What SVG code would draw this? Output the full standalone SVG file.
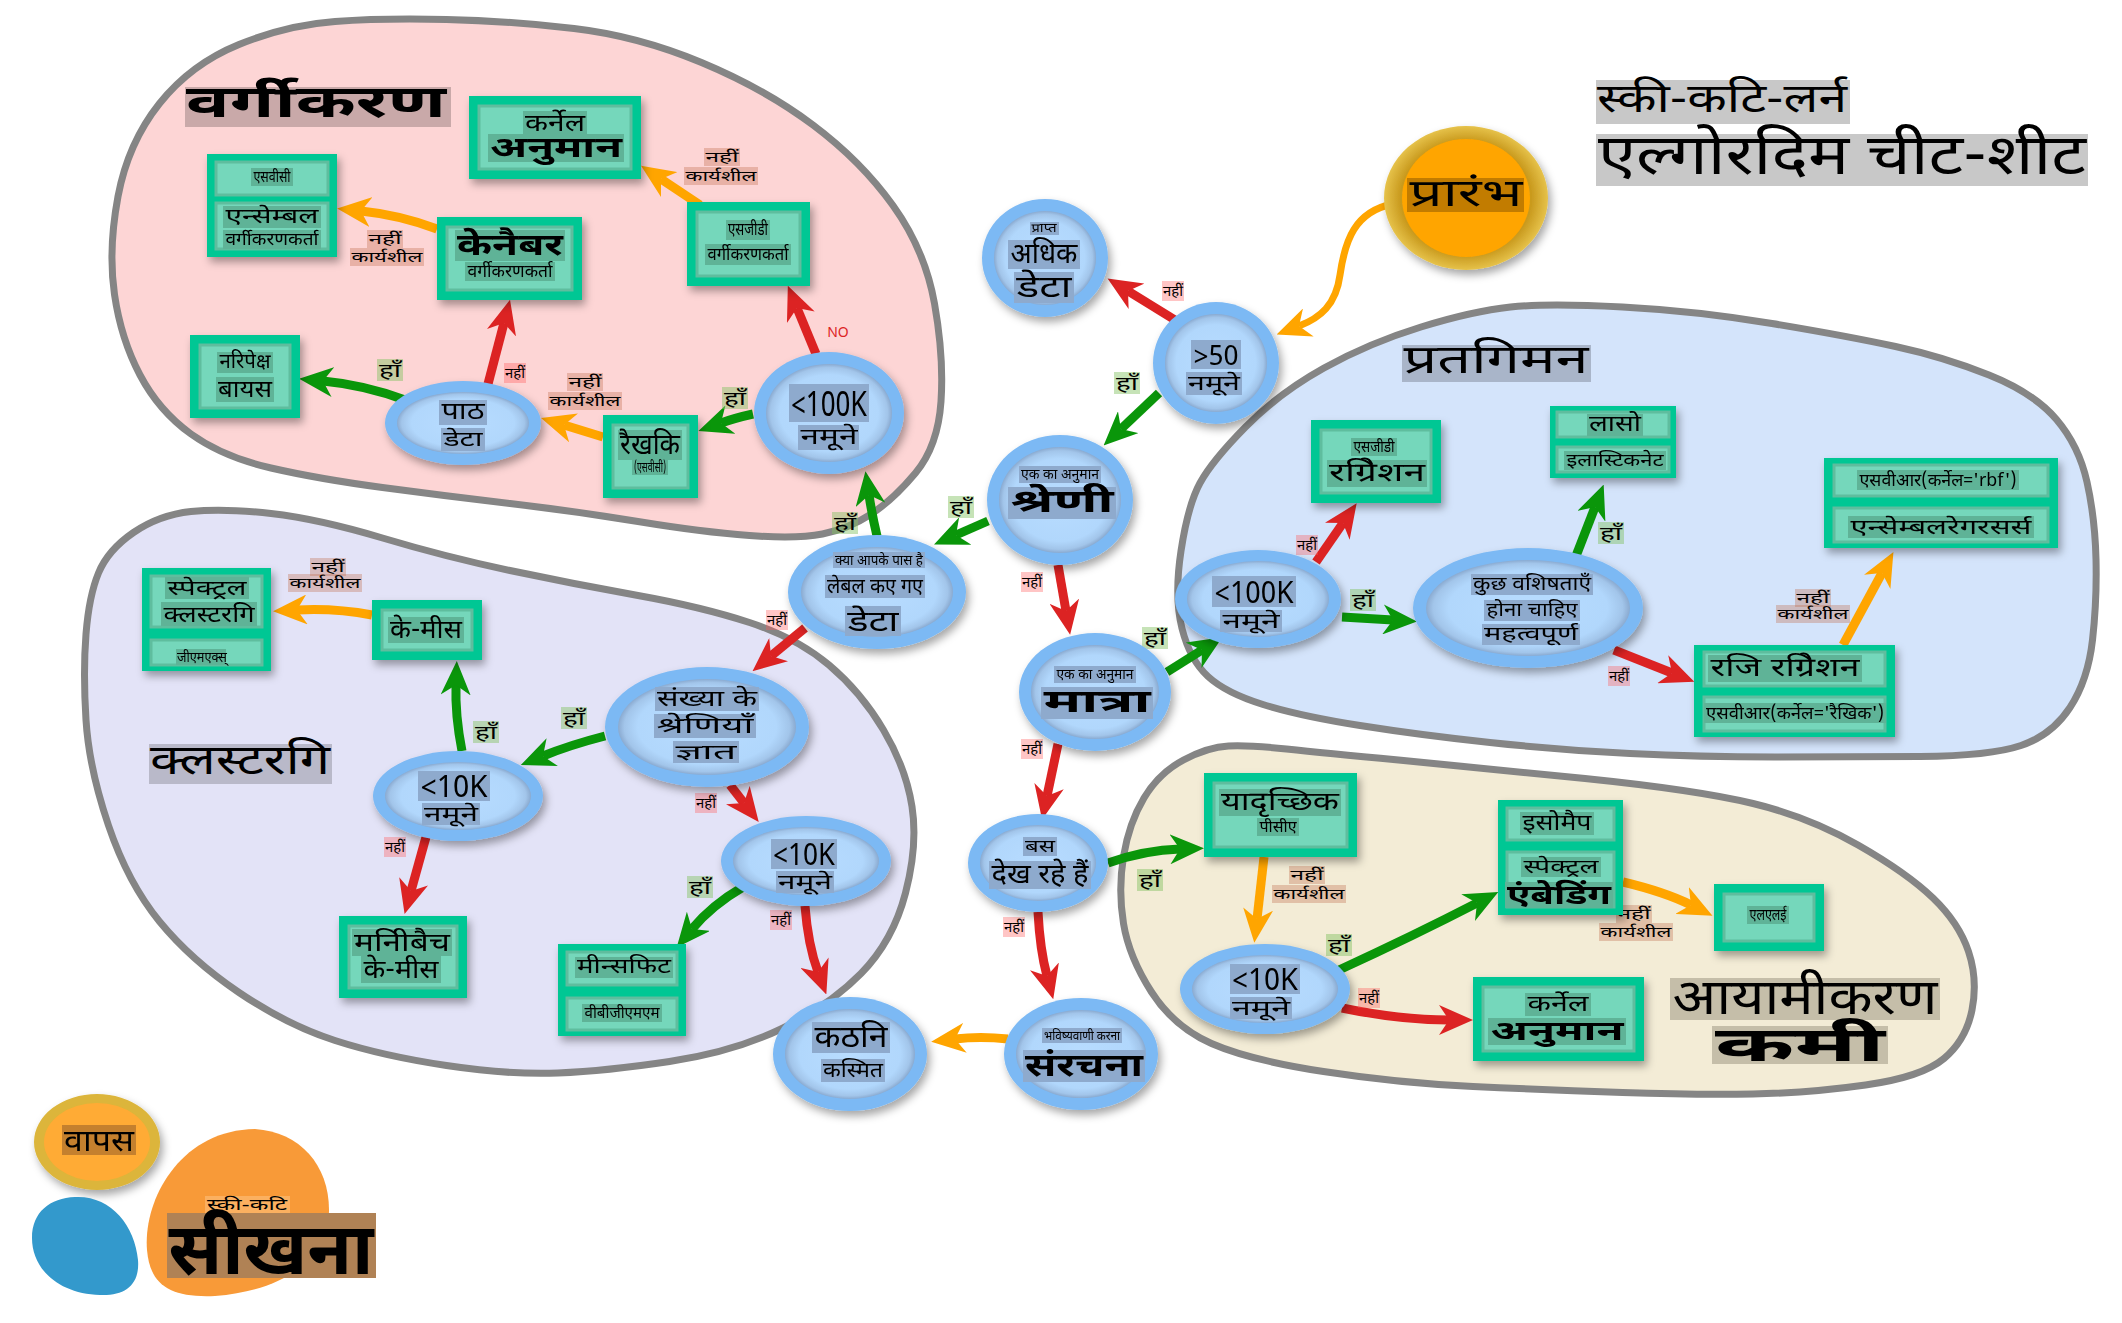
<svg xmlns="http://www.w3.org/2000/svg" width="2122" height="1323" viewBox="0 0 2122 1323">
<style>
.t{font-family:'Noto Sans Devanagari','Noto Sans','Lohit Devanagari',sans-serif;text-anchor:middle;fill:#000}
.b{font-weight:bold}
.blob{stroke:#858585;stroke-width:7}
.ring{fill:#7cb9f4}
.core{fill:url(#cg)}
.box{fill:#00c794}
.in{fill:#75d7bb;stroke:#5fbd9e;stroke-width:3}
.hb{fill:#8eaacd}
.hg{fill:#5fb397}
.ed{fill:none;stroke-linecap:butt}
.r{stroke:#dc2323;marker-end:url(#mr)}
.g{stroke:#0a960a;marker-end:url(#mg)}
.o{stroke:#ffa500;marker-end:url(#mo)}
.ly{fill:#80c060;fill-opacity:.45}
.ln{fill:#ff5a5a;fill-opacity:.35}
.lk{fill:#c07050;fill-opacity:.35}
</style>
<defs>
<radialGradient id="cg" cx="50%" cy="50%" r="50%">
<stop offset="0" stop-color="#b8dcff"/><stop offset="0.78" stop-color="#b1d7fc"/><stop offset="0.93" stop-color="#a2c5ea"/><stop offset="1" stop-color="#8aaad0"/>
</radialGradient>
<radialGradient id="gold" cx="50%" cy="50%" r="50%">
<stop offset="0.8" stop-color="#c99a1e"/><stop offset="1" stop-color="#e6c24a"/>
</radialGradient>
<filter id="sh" x="-20%" y="-20%" width="150%" height="150%">
<feDropShadow dx="3" dy="5" stdDeviation="4" flood-color="#000" flood-opacity="0.35"/>
</filter>
<marker id="mr" viewBox="0 0 34 30" refX="10" refY="15" markerWidth="34" markerHeight="30" markerUnits="userSpaceOnUse" orient="auto"><path d="M0,0 L34,15 L0,30 L10,15 Z" fill="#dc2323"/></marker>
<marker id="mg" viewBox="0 0 34 30" refX="10" refY="15" markerWidth="34" markerHeight="30" markerUnits="userSpaceOnUse" orient="auto"><path d="M0,0 L34,15 L0,30 L10,15 Z" fill="#0a960a"/></marker>
<marker id="mo" viewBox="0 0 34 30" refX="10" refY="15" markerWidth="34" markerHeight="30" markerUnits="userSpaceOnUse" orient="auto"><path d="M0,0 L34,15 L0,30 L10,15 Z" fill="#ffa500"/></marker>
</defs>
<rect width="2122" height="1323" fill="#fff"/>

<g id="regions">
<path id="blob-classification" class="blob" fill="#fdd5d5" d="M114.5,294.5 Q108,250 118,196.5 Q128,143 159.5,103.5 Q191,64 239,44.5 Q287,25 335,21.5 Q383,18 446.5,19.5 Q510,21 574,28.5 Q638,36 701.5,62.5 Q765,89 813,125 Q861,161 893,205.5 Q925,250 934.5,303.5 Q944,357 941,401.5 Q938,446 915.5,473 Q893,500 870.5,514.5 Q848,529 822.5,534 Q797,539 749.5,535.5 Q702,532 638,521.5 Q574,511 510,503.5 Q446,496 382.5,487.5 Q319,479 271,468 Q223,457 191,434 Q159,411 140,375 Q121,339 114.5,294.5 Z"/>
<path id="blob-clustering" class="blob" fill="#e3e3f7" d="M86,720 Q83,672 86,634 Q89,596 98.5,573 Q108,550 133.5,532.5 Q159,515 191,511.5 Q223,508 271,513.5 Q319,519 382.5,538 Q446,557 510,570.5 Q574,584 638,595.5 Q702,607 749.5,622.5 Q797,638 829,665 Q861,692 883.5,730 Q906,768 912,806.5 Q918,845 905.5,893 Q893,941 861,973.5 Q829,1006 781,1029 Q733,1052 669.5,1061.5 Q606,1071 558,1073 Q510,1075 446.5,1065.5 Q383,1056 335,1040.5 Q287,1025 239,992.5 Q191,960 159.5,921.5 Q128,883 108.5,825.5 Q89,768 86,720 Z"/>
<path id="blob-regression" class="blob" fill="#d4e4fb" d="M1182,628.5 Q1174,597 1181,551 Q1188,505 1200,483 Q1212,461 1245.5,427 Q1279,393 1324,368 Q1369,343 1421,327 Q1473,311 1510.5,307 Q1548,303 1622.5,307 Q1697,311 1772,323.5 Q1847,336 1895.5,346.5 Q1944,357 1989,375 Q2034,393 2056.5,419.5 Q2079,446 2087,482 Q2095,518 2096,559 Q2097,600 2092.5,640 Q2088,680 2070,707.5 Q2052,735 2021,745.5 Q1990,756 1920,756.5 Q1850,757 1775,757 Q1700,757 1630,753.5 Q1560,750 1490,742.5 Q1420,735 1360,725.5 Q1300,716 1263,704.5 Q1226,693 1208,676.5 Q1190,660 1182,628.5 Z"/>
<path id="blob-dimred" class="blob" fill="#f3ecd6" d="M1123.5,923.5 Q1118,890 1123.5,856.5 Q1129,823 1144,798 Q1159,773 1183.5,760 Q1208,747 1228.5,746 Q1249,745 1286.5,749 Q1324,753 1398.5,760 Q1473,767 1585,778.5 Q1697,790 1753,803.5 Q1809,817 1858,845 Q1907,873 1933,898 Q1959,923 1968.5,951.5 Q1978,980 1972,1010 Q1966,1040 1944,1058.5 Q1922,1077 1865.5,1085 Q1809,1093 1753,1094 Q1697,1095 1622.5,1092.5 Q1548,1090 1473,1086.5 Q1398,1083 1323.5,1071.5 Q1249,1060 1211.5,1043.5 Q1174,1027 1151.5,992 Q1129,957 1123.5,923.5 Z"/>
</g>

<g id="titles">
<rect x="1596" y="80" width="254" height="44" fill="#c8c8c8"/>
<text class="t" x="1722" y="112" font-size="40" textLength="250" lengthAdjust="spacingAndGlyphs">स्की-कटि-लर्न</text>
<rect x="1596" y="134" width="492" height="52" fill="#c8c8c8"/>
<text class="t" x="1842" y="174" font-size="56" textLength="488" lengthAdjust="spacingAndGlyphs">एल्गोरदिम चीट-शीट</text>
<rect x="185" y="87" width="266" height="40" fill="#c9a9a9"/>
<text class="t b" x="316" y="117" font-size="44" textLength="260" lengthAdjust="spacingAndGlyphs">वर्गीकरण</text>
<rect x="1402" y="345" width="189" height="37" fill="#a9b5c9"/>
<text class="t" x="1496" y="373" font-size="40" textLength="185" lengthAdjust="spacingAndGlyphs">प्रतगिमन</text>
<rect x="149" y="744" width="183" height="40" fill="#b9b9c9"/>
<text class="t" x="240" y="774" font-size="42" textLength="180" lengthAdjust="spacingAndGlyphs">क्लस्टरगि</text>
<rect x="1670" y="978" width="270" height="42" fill="#c5bea9"/>
<text class="t" x="1805" y="1014" font-size="50" textLength="265" lengthAdjust="spacingAndGlyphs">आयामीकरण</text>
<rect x="1712" y="1026" width="176" height="38" fill="#c5bea9"/>
<text class="t b" x="1800" y="1061" font-size="48" textLength="170" lengthAdjust="spacingAndGlyphs">कमी</text>
</g>

<g id="connectors" stroke-width="9">
<path class="ed r" d="M816,354 L797,308"/>
<path class="ed o" d="M700,205 L661,179"/>
<path class="ed g" d="M753,414 Q735,418 721,423"/>
<path class="ed o" d="M603,437 L564,425"/>
<path class="ed r" d="M488,384 Q497,350 504,323"/>
<path class="ed g" d="M405,400 Q365,385 323,381"/>
<path class="ed o" d="M437,229 Q400,215 361,211"/>
<path class="ed g" d="M877,536 Q872,515 869,495"/>
<path class="ed g" d="M988,521 L956,535"/>
<path class="ed g" d="M1159,393 L1121,429"/>
<path class="ed r" d="M1175,320 L1128,291"/>
<path class="ed o" stroke-width="7" d="M1392,204 C1355,212 1345,240 1340,275 C1336,305 1320,318 1299,326"/>
<path class="ed r" d="M1058,565 L1066,611"/>
<path class="ed g" d="M1167,672 L1202,650"/>
<path class="ed r" d="M1316,562 L1343,523"/>
<path class="ed g" d="M1342,617 L1393,620"/>
<path class="ed g" d="M1576,556 L1595,507"/>
<path class="ed r" d="M1614,650 L1672,673"/>
<path class="ed o" d="M1843,645 L1882,573"/>
<path class="ed r" d="M805,628 L771,656"/>
<path class="ed g" d="M605,736 Q570,745 543,756"/>
<path class="ed g" d="M462,751 Q455,715 456,685"/>
<path class="ed o" d="M372,615 Q335,608 297,610"/>
<path class="ed r" d="M426,837 L411,891"/>
<path class="ed r" d="M730,785 L744,803"/>
<path class="ed g" d="M743,887 Q712,905 692,929"/>
<path class="ed r" d="M805,906 Q808,945 818,972"/>
<path class="ed o" d="M1008,1039 Q980,1036 955,1039"/>
<path class="ed r" d="M1058,744 L1047,796"/>
<path class="ed r" d="M1038,912 Q1040,950 1047,976"/>
<path class="ed g" d="M1108,863 Q1145,850 1180,849"/>
<path class="ed o" d="M1264,857 L1257,919"/>
<path class="ed g" d="M1339,970 Q1415,935 1477,903"/>
<path class="ed o" d="M1623,882 Q1665,892 1691,905"/>
<path class="ed r" d="M1342,1008 Q1400,1020 1449,1020"/>
</g>

<g id="edge-labels">
<text class="t" x="838" y="337" font-size="14" style="fill:#dc2323">NO</text>
<g font-size="19">
<rect class="ly" x="722" y="387" width="26" height="22"/><text class="t" x="735" y="405" textLength="22" lengthAdjust="spacingAndGlyphs">हाँ</text>
<rect class="ly" x="377" y="359" width="26" height="22"/><text class="t" x="390" y="377" textLength="22" lengthAdjust="spacingAndGlyphs">हाँ</text>
<rect class="ly" x="832" y="512" width="26" height="22"/><text class="t" x="845" y="530" textLength="22" lengthAdjust="spacingAndGlyphs">हाँ</text>
<rect class="ly" x="948" y="496" width="26" height="22"/><text class="t" x="961" y="514" textLength="22" lengthAdjust="spacingAndGlyphs">हाँ</text>
<rect class="ly" x="1114" y="372" width="26" height="22"/><text class="t" x="1127" y="390" textLength="22" lengthAdjust="spacingAndGlyphs">हाँ</text>
<rect class="ly" x="1142" y="627" width="26" height="22"/><text class="t" x="1155" y="645" textLength="22" lengthAdjust="spacingAndGlyphs">हाँ</text>
<rect class="ly" x="1350" y="589" width="26" height="22"/><text class="t" x="1363" y="607" textLength="22" lengthAdjust="spacingAndGlyphs">हाँ</text>
<rect class="ly" x="1598" y="522" width="26" height="22"/><text class="t" x="1611" y="540" textLength="22" lengthAdjust="spacingAndGlyphs">हाँ</text>
<rect class="ly" x="561" y="707" width="26" height="22"/><text class="t" x="574" y="725" textLength="22" lengthAdjust="spacingAndGlyphs">हाँ</text>
<rect class="ly" x="473" y="721" width="26" height="22"/><text class="t" x="486" y="739" textLength="22" lengthAdjust="spacingAndGlyphs">हाँ</text>
<rect class="ly" x="687" y="876" width="26" height="22"/><text class="t" x="700" y="894" textLength="22" lengthAdjust="spacingAndGlyphs">हाँ</text>
<rect class="ly" x="1137" y="869" width="26" height="22"/><text class="t" x="1150" y="887" textLength="22" lengthAdjust="spacingAndGlyphs">हाँ</text>
<rect class="ly" x="1326" y="934" width="26" height="22"/><text class="t" x="1339" y="952" textLength="22" lengthAdjust="spacingAndGlyphs">हाँ</text>
</g>
<g font-size="15">
<rect class="ln" x="504" y="363" width="22" height="20"/><text class="t" x="515" y="378" textLength="20" lengthAdjust="spacingAndGlyphs">नहीं</text>
<rect class="ln" x="1162" y="281" width="22" height="20"/><text class="t" x="1173" y="296" textLength="20" lengthAdjust="spacingAndGlyphs">नहीं</text>
<rect class="ln" x="1021" y="572" width="22" height="20"/><text class="t" x="1032" y="587" textLength="20" lengthAdjust="spacingAndGlyphs">नहीं</text>
<rect class="ln" x="1296" y="535" width="22" height="20"/><text class="t" x="1307" y="550" textLength="20" lengthAdjust="spacingAndGlyphs">नहीं</text>
<rect class="ln" x="1608" y="666" width="22" height="20"/><text class="t" x="1619" y="681" textLength="20" lengthAdjust="spacingAndGlyphs">नहीं</text>
<rect class="ln" x="766" y="610" width="22" height="20"/><text class="t" x="777" y="625" textLength="20" lengthAdjust="spacingAndGlyphs">नहीं</text>
<rect class="ln" x="384" y="837" width="22" height="20"/><text class="t" x="395" y="852" textLength="20" lengthAdjust="spacingAndGlyphs">नहीं</text>
<rect class="ln" x="695" y="793" width="22" height="20"/><text class="t" x="706" y="808" textLength="20" lengthAdjust="spacingAndGlyphs">नहीं</text>
<rect class="ln" x="770" y="910" width="22" height="20"/><text class="t" x="781" y="925" textLength="20" lengthAdjust="spacingAndGlyphs">नहीं</text>
<rect class="ln" x="1021" y="739" width="22" height="20"/><text class="t" x="1032" y="754" textLength="20" lengthAdjust="spacingAndGlyphs">नहीं</text>
<rect class="ln" x="1003" y="917" width="22" height="20"/><text class="t" x="1014" y="932" textLength="20" lengthAdjust="spacingAndGlyphs">नहीं</text>
<rect class="ln" x="1358" y="988" width="22" height="20"/><text class="t" x="1369" y="1003" textLength="20" lengthAdjust="spacingAndGlyphs">नहीं</text>
</g>
<g font-size="15">
<rect class="lk" x="704" y="148" width="36" height="18"/><text class="t" x="722" y="162" textLength="33" lengthAdjust="spacingAndGlyphs">नहीं</text>
<rect class="lk" x="684" y="167" width="74" height="18"/><text class="t" x="721" y="181" textLength="71" lengthAdjust="spacingAndGlyphs">कार्यशील</text>
<rect class="lk" x="567" y="373" width="36" height="18"/><text class="t" x="585" y="387" textLength="33" lengthAdjust="spacingAndGlyphs">नहीं</text>
<rect class="lk" x="548" y="392" width="74" height="18"/><text class="t" x="585" y="406" textLength="71" lengthAdjust="spacingAndGlyphs">कार्यशील</text>
<rect class="lk" x="367" y="230" width="36" height="18"/><text class="t" x="385" y="244" textLength="33" lengthAdjust="spacingAndGlyphs">नहीं</text>
<rect class="lk" x="350" y="248" width="74" height="18"/><text class="t" x="387" y="262" textLength="71" lengthAdjust="spacingAndGlyphs">कार्यशील</text>
<rect class="lk" x="1795" y="589" width="36" height="18"/><text class="t" x="1813" y="603" textLength="33" lengthAdjust="spacingAndGlyphs">नहीं</text>
<rect class="lk" x="1776" y="605" width="74" height="18"/><text class="t" x="1813" y="619" textLength="71" lengthAdjust="spacingAndGlyphs">कार्यशील</text>
<rect class="lk" x="310" y="558" width="36" height="18"/><text class="t" x="328" y="572" textLength="33" lengthAdjust="spacingAndGlyphs">नहीं</text>
<rect class="lk" x="288" y="574" width="74" height="18"/><text class="t" x="325" y="588" textLength="71" lengthAdjust="spacingAndGlyphs">कार्यशील</text>
<rect class="lk" x="1289" y="866" width="36" height="18"/><text class="t" x="1307" y="880" textLength="33" lengthAdjust="spacingAndGlyphs">नहीं</text>
<rect class="lk" x="1272" y="885" width="74" height="18"/><text class="t" x="1309" y="899" textLength="71" lengthAdjust="spacingAndGlyphs">कार्यशील</text>
<rect class="lk" x="1616" y="905" width="36" height="18"/><text class="t" x="1634" y="919" textLength="33" lengthAdjust="spacingAndGlyphs">नहीं</text>
<rect class="lk" x="1599" y="923" width="74" height="18"/><text class="t" x="1636" y="937" textLength="71" lengthAdjust="spacingAndGlyphs">कार्यशील</text>
</g>
</g>

<g id="nodes">
<g id="start" filter="url(#sh)">
<ellipse cx="1466" cy="198" rx="82" ry="72" fill="url(#gold)"/>
<ellipse cx="1466" cy="198" rx="64" ry="59" fill="#ffa500"/>
<rect x="1407" y="178" width="117" height="34" fill="#c27c00"/>
<text class="t" x="1466" y="206" font-size="38" textLength="113" lengthAdjust="spacingAndGlyphs">प्रारंभ</text>
</g>

<g id="cls-100k" filter="url(#sh)">
<ellipse class="ring" cx="829" cy="413" rx="75" ry="61"/><ellipse class="core" cx="829" cy="413" rx="63" ry="49"/>
<rect class="hb" x="789" y="384" width="80" height="38"/><text class="t" x="829" y="416" font-size="34" textLength="76" lengthAdjust="spacingAndGlyphs">&lt;100K</text>
<rect class="hb" x="798" y="425" width="61" height="25"/><text class="t" x="829" y="444" font-size="23" textLength="57" lengthAdjust="spacingAndGlyphs">नमूने</text>
</g>
<g id="cls-sgd" filter="url(#sh)">
<rect class="box" x="687" y="202" width="123" height="84"/><rect class="in" x="697" y="212" width="103" height="64"/>
<rect class="hg" x="726" y="220" width="44" height="20"/><text class="t" x="748" y="235" font-size="18" textLength="40" lengthAdjust="spacingAndGlyphs">एसजीडी</text>
<rect class="hg" x="705" y="244" width="86" height="21"/><text class="t" x="748" y="260" font-size="18" textLength="81" lengthAdjust="spacingAndGlyphs">वर्गीकरणकर्ता</text>
</g>
<g id="cls-kernel" filter="url(#sh)">
<rect class="box" x="469" y="96" width="172" height="83"/><rect class="in" x="479" y="106" width="152" height="63"/>
<rect class="hg" x="523" y="111" width="64" height="26"/><text class="t" x="555" y="131" font-size="24" textLength="60" lengthAdjust="spacingAndGlyphs">कर्नेल</text>
<rect class="hg" x="488" y="134" width="136" height="28"/><text class="t b" x="556" y="157" font-size="29" textLength="132" lengthAdjust="spacingAndGlyphs">अनुमान</text>
</g>
<g id="cls-lsvc" filter="url(#sh)">
<rect class="box" x="603" y="415" width="95" height="83"/><rect class="in" x="613" y="425" width="75" height="63"/>
<rect class="hg" x="618" y="430" width="64" height="30"/><text class="t" x="650" y="454" font-size="28" textLength="60" lengthAdjust="spacingAndGlyphs">रैखकि</text>
<rect class="hg" x="632" y="459" width="36" height="16"/><text class="t" x="650" y="472" font-size="14" textLength="32" lengthAdjust="spacingAndGlyphs">(एसवीसी)</text>
</g>
<g id="cls-text" filter="url(#sh)">
<ellipse class="ring" cx="463" cy="423" rx="78" ry="42"/><ellipse class="core" cx="463" cy="423" rx="66" ry="31"/>
<rect class="hb" x="439" y="400" width="48" height="25"/><text class="t" x="463" y="419" font-size="24" textLength="43" lengthAdjust="spacingAndGlyphs">पाठ</text>
<rect class="hb" x="441" y="428" width="44" height="23"/><text class="t" x="463" y="446" font-size="21" textLength="39" lengthAdjust="spacingAndGlyphs">डेटा</text>
</g>
<g id="cls-knn" filter="url(#sh)">
<rect class="box" x="437" y="217" width="145" height="83"/><rect class="in" x="447" y="227" width="125" height="63"/>
<rect class="hg" x="455" y="230" width="110" height="31"/><text class="t b" x="510" y="255" font-size="31" textLength="106" lengthAdjust="spacingAndGlyphs">केनैबर</text>
<rect class="hg" x="465" y="262" width="90" height="19"/><text class="t" x="510" y="277" font-size="18" textLength="85" lengthAdjust="spacingAndGlyphs">वर्गीकरणकर्ता</text>
</g>
<g id="cls-svc" filter="url(#sh)">
<rect class="box" x="207" y="154" width="130" height="103"/><rect class="in" x="216" y="162" width="112" height="33"/><rect class="in" x="216" y="203" width="112" height="46"/>
<rect class="hg" x="251" y="168" width="42" height="18"/><text class="t" x="272" y="182" font-size="16" textLength="37" lengthAdjust="spacingAndGlyphs">एसवीसी</text>
<rect class="hg" x="223" y="206" width="98" height="22"/><text class="t" x="272" y="223" font-size="21" textLength="93" lengthAdjust="spacingAndGlyphs">एन्सेम्बल</text>
<rect class="hg" x="223" y="230" width="98" height="19"/><text class="t" x="272" y="245" font-size="17" textLength="93" lengthAdjust="spacingAndGlyphs">वर्गीकरणकर्ता</text>
</g>
<g id="cls-nb" filter="url(#sh)">
<rect class="box" x="190" y="335" width="110" height="83"/><rect class="in" x="200" y="345" width="90" height="63"/>
<rect class="hg" x="217" y="352" width="56" height="21"/><text class="t" x="245" y="368" font-size="20" textLength="51" lengthAdjust="spacingAndGlyphs">नरिपेक्ष</text>
<rect class="hg" x="216" y="377" width="58" height="25"/><text class="t" x="245" y="397" font-size="24" textLength="54" lengthAdjust="spacingAndGlyphs">बायस</text>
</g>

<g id="more-data" filter="url(#sh)">
<ellipse class="ring" cx="1045" cy="258" rx="63" ry="59"/><ellipse class="core" cx="1045" cy="258" rx="51" ry="47"/>
<rect class="hb" x="1030" y="222" width="29" height="13"/><text class="t" x="1044" y="232" font-size="12" textLength="25" lengthAdjust="spacingAndGlyphs">प्राप्त</text>
<rect class="hb" x="1008" y="240" width="72" height="29"/><text class="t" x="1044" y="263" font-size="28" textLength="67" lengthAdjust="spacingAndGlyphs">अधिक</text>
<rect class="hb" x="1014" y="272" width="60" height="31"/><text class="t" x="1044" y="297" font-size="30" textLength="55" lengthAdjust="spacingAndGlyphs">डेटा</text>
</g>
<g id="gt50" filter="url(#sh)">
<ellipse class="ring" cx="1216" cy="363" rx="63" ry="61"/><ellipse class="core" cx="1216" cy="363" rx="51" ry="49"/>
<rect class="hb" x="1191" y="340" width="50" height="29"/><text class="t" x="1216" y="365" font-size="28" textLength="45" lengthAdjust="spacingAndGlyphs">&gt;50</text>
<rect class="hb" x="1186" y="372" width="56" height="23"/><text class="t" x="1214" y="390" font-size="21" textLength="52" lengthAdjust="spacingAndGlyphs">नमूने</text>
</g>
<g id="category" filter="url(#sh)">
<ellipse class="ring" cx="1060" cy="500" rx="73" ry="65"/><ellipse class="core" cx="1060" cy="500" rx="61" ry="53"/>
<rect class="hb" x="1019" y="466" width="82" height="17"/><text class="t" x="1060" y="479" font-size="14" textLength="78" lengthAdjust="spacingAndGlyphs">एक का अनुमान</text>
<rect class="hb" x="1008" y="487" width="108" height="32"/><text class="t b" x="1062" y="512" font-size="32" textLength="103" lengthAdjust="spacingAndGlyphs">श्रेणी</text>
</g>
<g id="quantity" filter="url(#sh)">
<ellipse class="ring" cx="1095" cy="692" rx="76" ry="59"/><ellipse class="core" cx="1095" cy="692" rx="64" ry="47"/>
<rect class="hb" x="1054" y="666" width="82" height="17"/><text class="t" x="1095" y="679" font-size="14" textLength="77" lengthAdjust="spacingAndGlyphs">एक का अनुमान</text>
<rect class="hb" x="1041" y="687" width="112" height="32"/><text class="t b" x="1097" y="712" font-size="32" textLength="107" lengthAdjust="spacingAndGlyphs">मात्रा</text>
</g>
<g id="labeled" filter="url(#sh)">
<ellipse class="ring" cx="877" cy="592" rx="89" ry="57"/><ellipse class="core" cx="877" cy="592" rx="76" ry="45"/>
<rect class="hb" x="833" y="552" width="92" height="16"/><text class="t" x="879" y="565" font-size="14" textLength="88" lengthAdjust="spacingAndGlyphs">क्या आपके पास है</text>
<rect class="hb" x="825" y="575" width="100" height="23"/><text class="t" x="875" y="593" font-size="21" textLength="96" lengthAdjust="spacingAndGlyphs">लेबल कए गए</text>
<rect class="hb" x="845" y="606" width="56" height="30"/><text class="t" x="873" y="631" font-size="29" textLength="51" lengthAdjust="spacingAndGlyphs">डेटा</text>
</g>
<g id="look" filter="url(#sh)">
<ellipse class="ring" cx="1038" cy="863" rx="70" ry="49"/><ellipse class="core" cx="1038" cy="863" rx="58" ry="38"/>
<rect class="hb" x="1023" y="837" width="34" height="19"/><text class="t" x="1040" y="852" font-size="18" textLength="30" lengthAdjust="spacingAndGlyphs">बस</text>
<rect class="hb" x="989" y="861" width="102" height="28"/><text class="t" x="1040" y="883" font-size="27" textLength="97" lengthAdjust="spacingAndGlyphs">देख रहे हैं</text>
</g>
<g id="structure" filter="url(#sh)">
<ellipse class="ring" cx="1081" cy="1054" rx="77" ry="56"/><ellipse class="core" cx="1081" cy="1054" rx="65" ry="44"/>
<rect class="hb" x="1042" y="1028" width="80" height="15"/><text class="t" x="1082" y="1040" font-size="13" textLength="76" lengthAdjust="spacingAndGlyphs">भविष्यवाणी करना</text>
<rect class="hb" x="1023" y="1050" width="122" height="32"/><text class="t b" x="1084" y="1076" font-size="32" textLength="118" lengthAdjust="spacingAndGlyphs">संरचना</text>
</g>
<g id="tough" filter="url(#sh)">
<ellipse class="ring" cx="850" cy="1054" rx="77" ry="57"/><ellipse class="core" cx="850" cy="1054" rx="65" ry="45"/>
<rect class="hb" x="812" y="1022" width="78" height="31"/><text class="t" x="851" y="1047" font-size="31" textLength="73" lengthAdjust="spacingAndGlyphs">कठनि</text>
<rect class="hb" x="821" y="1059" width="64" height="23"/><text class="t" x="853" y="1077" font-size="21" textLength="60" lengthAdjust="spacingAndGlyphs">कस्मित</text>
</g>

<g id="reg-100k" filter="url(#sh)">
<ellipse class="ring" cx="1258" cy="599" rx="83" ry="49"/><ellipse class="core" cx="1258" cy="599" rx="71" ry="38"/>
<rect class="hb" x="1212" y="576" width="84" height="31"/><text class="t" x="1254" y="603" font-size="31" textLength="79" lengthAdjust="spacingAndGlyphs">&lt;100K</text>
<rect class="hb" x="1220" y="610" width="62" height="22"/><text class="t" x="1251" y="628" font-size="21" textLength="57" lengthAdjust="spacingAndGlyphs">नमूने</text>
</g>
<g id="reg-feat" filter="url(#sh)">
<ellipse class="ring" cx="1528" cy="608" rx="115" ry="60"/><ellipse class="core" cx="1528" cy="608" rx="102" ry="48"/>
<rect class="hb" x="1471" y="574" width="122" height="21"/><text class="t" x="1532" y="590" font-size="19" textLength="118" lengthAdjust="spacingAndGlyphs">कुछ वशिषताएँ</text>
<rect class="hb" x="1484" y="600" width="96" height="21"/><text class="t" x="1532" y="616" font-size="19" textLength="91" lengthAdjust="spacingAndGlyphs">होना चाहिए</text>
<rect class="hb" x="1482" y="624" width="98" height="21"/><text class="t" x="1531" y="640" font-size="19" textLength="94" lengthAdjust="spacingAndGlyphs">महत्वपूर्ण</text>
</g>
<g id="reg-sgd" filter="url(#sh)">
<rect class="box" x="1311" y="420" width="130" height="83"/><rect class="in" x="1321" y="430" width="110" height="63"/>
<rect class="hg" x="1351" y="438" width="46" height="18"/><text class="t" x="1374" y="452" font-size="16" textLength="41" lengthAdjust="spacingAndGlyphs">एसजीडी</text>
<rect class="hg" x="1327" y="460" width="100" height="27"/><text class="t" x="1377" y="481" font-size="26" textLength="96" lengthAdjust="spacingAndGlyphs">रग्रिेशन</text>
</g>
<g id="reg-lasso" filter="url(#sh)">
<rect class="box" x="1550" y="406" width="126" height="72"/><rect class="in" x="1557" y="412" width="112" height="25"/><rect class="in" x="1557" y="447" width="112" height="25"/>
<rect class="hg" x="1587" y="414" width="56" height="22"/><text class="t" x="1615" y="431" font-size="22" textLength="52" lengthAdjust="spacingAndGlyphs">लासो</text>
<rect class="hg" x="1564" y="451" width="102" height="19"/><text class="t" x="1615" y="466" font-size="18" textLength="97" lengthAdjust="spacingAndGlyphs">इलास्टिकनेट</text>
</g>
<g id="reg-ridge" filter="url(#sh)">
<rect class="box" x="1694" y="645" width="201" height="92"/><rect class="in" x="1704" y="652" width="181" height="34"/><rect class="in" x="1704" y="697" width="181" height="34"/>
<rect class="hg" x="1708" y="655" width="154" height="27"/><text class="t" x="1785" y="676" font-size="26" textLength="149" lengthAdjust="spacingAndGlyphs">रजि रग्रिेशन</text>
<rect class="hg" x="1704" y="703" width="182" height="20"/><text class="t" x="1795" y="719" font-size="18" textLength="178" lengthAdjust="spacingAndGlyphs">एसवीआर(कर्नेल='रैखिक')</text>
</g>
<g id="reg-svr" filter="url(#sh)">
<rect class="box" x="1824" y="458" width="234" height="90"/><rect class="in" x="1834" y="465" width="214" height="31"/><rect class="in" x="1834" y="508" width="214" height="34"/>
<rect class="hg" x="1857" y="470" width="162" height="20"/><text class="t" x="1938" y="486" font-size="18" textLength="157" lengthAdjust="spacingAndGlyphs">एसवीआर(कर्नेल='rbf')</text>
<rect class="hg" x="1848" y="516" width="186" height="22"/><text class="t" x="1941" y="534" font-size="20" textLength="181" lengthAdjust="spacingAndGlyphs">एन्सेम्बलरेगरसर्स</text>
</g>

<g id="dim-pca" filter="url(#sh)">
<rect class="box" x="1204" y="773" width="153" height="84"/><rect class="in" x="1214" y="783" width="133" height="64"/>
<rect class="hg" x="1219" y="789" width="122" height="27"/><text class="t" x="1280" y="810" font-size="26" textLength="118" lengthAdjust="spacingAndGlyphs">यादृच्छिक</text>
<rect class="hg" x="1257" y="818" width="42" height="18"/><text class="t" x="1278" y="832" font-size="16" textLength="37" lengthAdjust="spacingAndGlyphs">पीसीए</text>
</g>
<g id="dim-10k" filter="url(#sh)">
<ellipse class="ring" cx="1265" cy="989" rx="85" ry="45"/><ellipse class="core" cx="1265" cy="989" rx="73" ry="34"/>
<rect class="hb" x="1230" y="964" width="70" height="30"/><text class="t" x="1265" y="990" font-size="30" textLength="66" lengthAdjust="spacingAndGlyphs">&lt;10K</text>
<rect class="hb" x="1230" y="997" width="62" height="22"/><text class="t" x="1261" y="1015" font-size="21" textLength="58" lengthAdjust="spacingAndGlyphs">नमूने</text>
</g>
<g id="dim-iso" filter="url(#sh)">
<rect class="box" x="1498" y="800" width="125" height="115"/><rect class="in" x="1507" y="808" width="107" height="32"/><rect class="in" x="1507" y="852" width="107" height="55"/>
<rect class="hg" x="1520" y="812" width="74" height="23"/><text class="t" x="1557" y="830" font-size="22" textLength="69" lengthAdjust="spacingAndGlyphs">इसोमैप</text>
<rect class="hg" x="1521" y="857" width="80" height="20"/><text class="t" x="1561" y="873" font-size="19" textLength="75" lengthAdjust="spacingAndGlyphs">स्पेक्ट्रल</text>
<rect class="hg" x="1505" y="882" width="108" height="26"/><text class="t b" x="1559" y="904" font-size="27" textLength="104" lengthAdjust="spacingAndGlyphs">एंबेडिंग</text>
</g>
<g id="dim-lle" filter="url(#sh)">
<rect class="box" x="1714" y="884" width="110" height="67"/><rect class="in" x="1724" y="894" width="90" height="47"/>
<rect class="hg" x="1747" y="906" width="42" height="18"/><text class="t" x="1768" y="920" font-size="16" textLength="37" lengthAdjust="spacingAndGlyphs">एलएलई</text>
</g>
<g id="dim-kernel" filter="url(#sh)">
<rect class="box" x="1473" y="977" width="171" height="84"/><rect class="in" x="1483" y="987" width="151" height="64"/>
<rect class="hg" x="1525" y="993" width="66" height="23"/><text class="t" x="1558" y="1011" font-size="22" textLength="61" lengthAdjust="spacingAndGlyphs">कर्नेल</text>
<rect class="hg" x="1488" y="1018" width="138" height="27"/><text class="t b" x="1557" y="1040" font-size="27" textLength="133" lengthAdjust="spacingAndGlyphs">अनुमान</text>
</g>

<g id="clu-count" filter="url(#sh)">
<ellipse class="ring" cx="707" cy="727" rx="102" ry="60"/><ellipse class="core" cx="707" cy="727" rx="89" ry="48"/>
<rect class="hb" x="655" y="687" width="104" height="24"/><text class="t" x="707" y="706" font-size="22" textLength="100" lengthAdjust="spacingAndGlyphs">संख्या के</text>
<rect class="hb" x="654" y="714" width="102" height="24"/><text class="t" x="705" y="733" font-size="22" textLength="97" lengthAdjust="spacingAndGlyphs">श्रेणियाँ</text>
<rect class="hb" x="673" y="741" width="66" height="22"/><text class="t" x="706" y="759" font-size="20" textLength="61" lengthAdjust="spacingAndGlyphs">ज्ञात</text>
</g>
<g id="clu-10k-a" filter="url(#sh)">
<ellipse class="ring" cx="458" cy="796" rx="85" ry="45"/><ellipse class="core" cx="458" cy="796" rx="73" ry="34"/>
<rect class="hb" x="418" y="771" width="72" height="30"/><text class="t" x="454" y="797" font-size="30" textLength="67" lengthAdjust="spacingAndGlyphs">&lt;10K</text>
<rect class="hb" x="422" y="803" width="58" height="22"/><text class="t" x="451" y="821" font-size="21" textLength="54" lengthAdjust="spacingAndGlyphs">नमूने</text>
</g>
<g id="clu-10k-b" filter="url(#sh)">
<ellipse class="ring" cx="806" cy="861" rx="85" ry="45"/><ellipse class="core" cx="806" cy="861" rx="73" ry="34"/>
<rect class="hb" x="771" y="839" width="66" height="30"/><text class="t" x="804" y="865" font-size="30" textLength="62" lengthAdjust="spacingAndGlyphs">&lt;10K</text>
<rect class="hb" x="776" y="871" width="58" height="22"/><text class="t" x="805" y="889" font-size="21" textLength="54" lengthAdjust="spacingAndGlyphs">नमूने</text>
</g>
<g id="clu-kmeans" filter="url(#sh)">
<rect class="box" x="372" y="600" width="110" height="60"/><rect class="in" x="382" y="610" width="90" height="40"/>
<rect class="hg" x="388" y="617" width="76" height="26"/><text class="t" x="426" y="638" font-size="26" textLength="72" lengthAdjust="spacingAndGlyphs">के-मीस</text>
</g>
<g id="clu-spectral" filter="url(#sh)">
<rect class="box" x="142" y="568" width="129" height="103"/><rect class="in" x="151" y="576" width="111" height="51"/><rect class="in" x="151" y="640" width="111" height="25"/>
<rect class="hg" x="165" y="577" width="84" height="22"/><text class="t" x="207" y="595" font-size="21" textLength="79" lengthAdjust="spacingAndGlyphs">स्पेक्ट्रल</text>
<rect class="hg" x="161" y="602" width="96" height="24"/><text class="t" x="209" y="622" font-size="23" textLength="91" lengthAdjust="spacingAndGlyphs">क्लस्टरगि</text>
<rect class="hg" x="176" y="649" width="50" height="16"/><text class="t" x="202" y="662" font-size="14" textLength="50" lengthAdjust="spacingAndGlyphs">जीएमएक्स्</text>
</g>
<g id="clu-minibatch" filter="url(#sh)">
<rect class="box" x="339" y="916" width="128" height="82"/><rect class="in" x="349" y="926" width="108" height="62"/>
<rect class="hg" x="352" y="929" width="100" height="27"/><text class="t" x="402" y="951" font-size="26" textLength="96" lengthAdjust="spacingAndGlyphs">मनिीबैच</text>
<rect class="hg" x="361" y="956" width="80" height="27"/><text class="t" x="401" y="978" font-size="26" textLength="75" lengthAdjust="spacingAndGlyphs">के-मीस</text>
</g>
<g id="clu-meanshift" filter="url(#sh)">
<rect class="box" x="558" y="944" width="128" height="92"/><rect class="in" x="567" y="952" width="110" height="33"/><rect class="in" x="567" y="998" width="110" height="32"/>
<rect class="hg" x="575" y="957" width="98" height="21"/><text class="t" x="624" y="973" font-size="20" textLength="94" lengthAdjust="spacingAndGlyphs">मीन्सफिट</text>
<rect class="hg" x="582" y="1004" width="80" height="18"/><text class="t" x="622" y="1018" font-size="16" textLength="75" lengthAdjust="spacingAndGlyphs">वीबीजीएमएम</text>
</g>

<g id="back" filter="url(#sh)">
<ellipse cx="97" cy="1142" rx="63" ry="48" fill="#dcb53a"/>
<ellipse cx="97" cy="1142" rx="53" ry="39" fill="#ffab35"/>
<rect x="62" y="1125" width="74" height="30" fill="#c4802e"/>
<text class="t" x="99" y="1151" font-size="30" textLength="70" lengthAdjust="spacingAndGlyphs">वापस</text>
</g>
</g>

<g id="logo">
<path fill="#3399cc" d="M75,1197 C110,1195 135,1225 138,1260 C140,1285 125,1296 100,1295 C60,1294 32,1270 32,1238 C32,1212 50,1198 75,1197 Z"/>
<path fill="#f89a38" d="M255,1129 C300,1132 329,1165 329,1210 C329,1255 290,1290 215,1296 C170,1298 150,1285 147,1250 C143,1200 180,1130 255,1129 Z"/>
<rect x="205" y="1196" width="85" height="17" fill="#fbb060"/>
<text class="t" x="247" y="1210" font-size="16" textLength="80" lengthAdjust="spacingAndGlyphs">स्की-कटि</text>
<rect x="167" y="1213" width="209" height="65" fill="#b08255"/>
<text class="t b" x="271" y="1274" font-size="72" textLength="205" lengthAdjust="spacingAndGlyphs">सीखना</text>
</g>
</svg>
